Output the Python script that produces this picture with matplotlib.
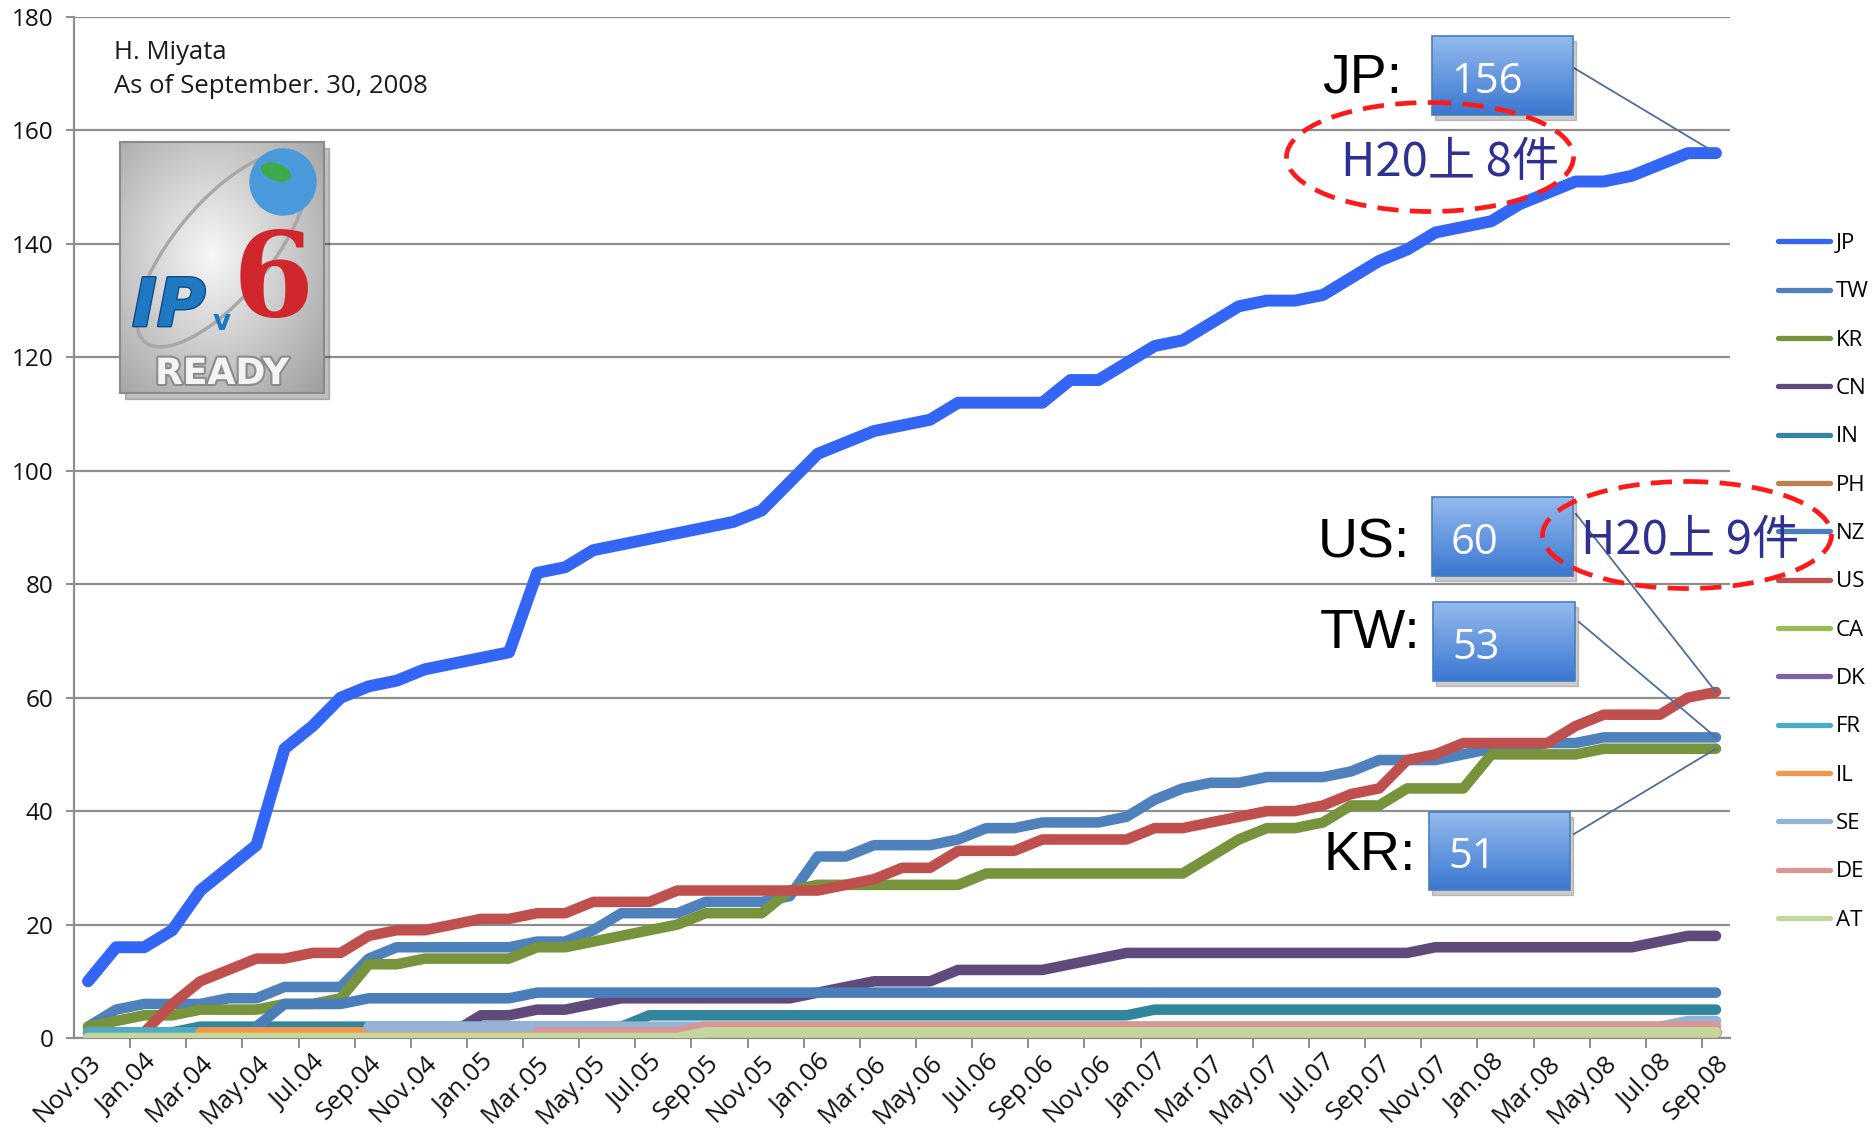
import numpy as np
import matplotlib
matplotlib.use("Agg")
import matplotlib.pyplot as plt
from matplotlib.patches import Ellipse, Rectangle, Circle
from matplotlib.lines import Line2D
import matplotlib.patheffects as pe

nan = np.nan

# ---------------- data ----------------
tick_labels = ["Nov.03", "Jan.04", "Mar.04", "May.04", "Jul.04", "Sep.04", "Nov.04", "Jan.05",
               "Mar.05", "May.05", "Jul.05", "Sep.05", "Nov.05", "Jan.06", "Mar.06", "May.06",
               "Jul.06", "Sep.06", "Nov.06", "Jan.07", "Mar.07", "May.07", "Jul.07", "Sep.07",
               "Nov.07", "Jan.08", "Mar.08", "May.08", "Jul.08", "Sep.08"]
n_months = 59

JP = [10, 16, 16, 19, 26, 30, 34, 51, 55, 60, 62, 63, 65, 66, 67, 68, 82, 83, 86, 87,
      88, 89, 90, 91, 93, 98, 103, 105, 107, 108, 109, 112, 112, 112, 112, 116, 116, 119, 122, 123,
      126, 129, 130, 130, 131, 134, 137, 139, 142, 143, 144, 147, 149, 151, 151, 152, 154, 156, 156]
TW = [2, 5, 6, 6, 6, 7, 7, 9, 9, 9, 14, 16, 16, 16, 16, 16, 17, 17, 19, 22,
      22, 22, 24, 24, 24, 25, 32, 32, 34, 34, 34, 35, 37, 37, 38, 38, 38, 39, 42, 44,
      45, 45, 46, 46, 46, 47, 49, 49, 49, 50, 51, 51, 52, 52, 53, 53, 53, 53, 53]
KR = [2, 3, 4, 4, 5, 5, 5, 6, 6, 7, 13, 13, 14, 14, 14, 14, 16, 16, 17, 18,
      19, 20, 22, 22, 22, 26, 27, 27, 27, 27, 27, 27, 29, 29, 29, 29, 29, 29, 29, 29,
      32, 35, 37, 37, 38, 41, 41, 44, 44, 44, 50, 50, 50, 50, 51, 51, 51, 51, 51]
CN = [nan] * 13 + [1, 4, 4, 5, 5, 6, 7, 7, 7, 7, 7, 7, 7, 8, 9, 10, 10, 10, 12, 12,
                   12, 12, 13, 14, 15, 15, 15, 15, 15, 15, 15, 15, 15, 15, 15, 16, 16, 16, 16, 16,
                   16, 16, 16, 17, 18, 18]
IN = [1, 1, 1, 1] + [2] * 16 + [4] * 18 + [5] * 21
PH = [1] * 59
NZ = [nan] * 6 + [2, 6, 6, 6] + [7] * 6 + [8] * 43
US = [nan, nan, 1, 6, 10, 12, 14, 14, 15, 15, 18, 19, 19, 20, 21, 21, 22, 22, 24, 24,
      24, 26, 26, 26, 26, 26, 26, 27, 28, 30, 30, 33, 33, 33, 35, 35, 35, 35, 37, 37,
      38, 39, 40, 40, 41, 43, 44, 49, 50, 52, 52, 52, 52, 55, 57, 57, 57, 60, 61]
CA = [nan] * 22 + [1] * 37
DK = [nan] * 30 + [1] * 29
FR = [1] * 59
IL = [nan] * 4 + [1] * 55
SE = [nan] * 10 + [2] * 47 + [3, 3]
DE = [nan] * 16 + [1] * 6 + [2] * 37
AT = [0] * 22 + [1] * 37

series_names = ["JP", "TW", "KR", "CN", "IN", "PH", "NZ", "US", "CA", "DK", "FR", "IL", "SE", "DE", "AT"]
series_values = [JP, TW, KR, CN, IN, PH, NZ, US, CA, DK, FR, IL, SE, DE, AT]
series_colors = ["#3366F5", "#4F81BD", "#77933C", "#604A7B", "#31859C", "#C0804D", "#4A7EBB",
                 "#C0504D", "#9BBB59", "#8064A2", "#4BACC6", "#F79646", "#95B3D7", "#D99694", "#C3D69B"]

callouts = [("JP", "156"), ("US", "60"), ("TW", "53"), ("KR", "51")]
notes = ["H20上 8件", "H20上 9件"]

# ---------------- figure ----------------
W, H = 1875, 1138
plt.rcParams["font.family"] = ["Open Sans", "Noto Sans CJK JP", "DejaVu Sans"]
fig = plt.figure(figsize=(W / 100, H / 100), dpi=100)
fig.patch.set_facecolor("white")

ax = fig.add_axes([74 / W, 1 - 1038 / H, (1730 - 74) / W, (1038 - 17) / H])
x = np.arange(n_months)
for i, (name, vals, col) in enumerate(zip(series_names, series_values, series_colors)):
    lw = 8.6 if name == "JP" else 7.6
    ax.plot(x, np.array(vals, dtype=float), color=col, lw=lw, solid_capstyle="round",
            solid_joinstyle="round", zorder=3 + i, label=name)

grid_c = "#8E8E8E"
ax.set_xlim(-0.5, n_months - 0.5)
ax.set_ylim(0, 180)
ax.set_yticks(np.arange(0, 181, 20))
ax.yaxis.grid(True, color=grid_c, lw=1.6, zorder=1)
ax.set_axisbelow(True)
for s in ["top", "right"]:
    ax.spines[s].set_visible(False)
for s in ["left", "bottom"]:
    ax.spines[s].set_color(grid_c)
    ax.spines[s].set_linewidth(1.6)
ax.tick_params(axis="y", length=6, width=1.4, color=grid_c, labelsize=17.5, pad=9, labelcolor="#111111")
ax.set_xticks(np.arange(0, n_months, 2))
ax.set_xticklabels(tick_labels, rotation=45, ha="right", va="top", rotation_mode="anchor")
ax.tick_params(axis="x", which="major", length=0, labelsize=18.5, pad=9, labelcolor="#111111")
ax.set_xticks(np.arange(1.5, n_months - 1, 2), minor=True)
ax.tick_params(axis="x", which="minor", length=7, width=1.4, color=grid_c)

leg = ax.legend(loc="upper left", bbox_to_anchor=(1778 / W, 1 - 233 / H), bbox_transform=fig.transFigure,
                frameon=False, fontsize=16, handlelength=2.35, handletextpad=0.25,
                labelspacing=1.23, borderpad=0, borderaxespad=0)
for h in leg.get_lines():
    h.set_linewidth(3.8)

# ---------------- overlay (pixel coordinates) ----------------
ov = fig.add_axes([0, 0, 1, 1], zorder=10)
ov.patch.set_alpha(0)
ov.axis("off")


def d2p(xv, yv):
    px, py = ax.transData.transform((xv, yv))
    return px, H - py


# header text
ov.text(114, 52, "H. Miyata", fontsize=18.5, va="center", ha="left", color="#1A1A1A")
ov.text(114, 86, "As of September. 30, 2008", fontsize=18.5, va="center", ha="left", color="#1A1A1A")

# logo (IPv6 Ready)
lx0, ly0, lx1, ly1 = 120, 142, 324, 393
ov.add_patch(Rectangle((lx0 + 5, ly0 + 6), lx1 - lx0, ly1 - ly0, color="black", alpha=0.25, zorder=1))
gy, gx = np.mgrid[0:1:120j, 0:1:100j]
r = np.sqrt((gx - 0.45) ** 2 + (gy - 0.45) ** 2)
val = np.clip(0.97 - 0.45 * r, 0.6, 1.0)
logo_img = np.dstack([val, val, val])
ov.imshow(logo_img, extent=(lx0, lx1, ly1, ly0), aspect="auto", zorder=2, interpolation="bilinear")
ov.add_patch(Rectangle((lx0, ly0), lx1 - lx0, ly1 - ly0, fill=False, ec="#8A8A8A", lw=1.5, zorder=3))
ov.add_patch(Ellipse((222, 250), 240, 95, angle=-50, fill=False, ec="#A8A8A8", lw=2.5, zorder=3))
ov.add_patch(Circle((283, 182), 33, color="#4A9ADB", zorder=4))
ov.add_patch(Ellipse((276, 172), 30, 16, angle=20, color="#3DAA4A", zorder=5))
ov.text(132, 326, "IP", fontsize=48, fontweight="bold", style="italic", color="#1E78C2",
        family=["DejaVu Sans"], ha="left", va="baseline", zorder=6,
        path_effects=[pe.withStroke(linewidth=2, foreground="#0E4C86")])
ov.text(213, 330, "v", fontsize=20, fontweight="bold", color="#1E78C2", family=["DejaVu Sans"],
        ha="left", va="baseline", zorder=7)
ov.text(233, 316, "6", fontsize=84, fontweight="bold", color="#D1262B", family=["DejaVu Serif"],
        ha="left", va="baseline", zorder=6)
ov.text(222, 384, "READY", fontsize=26, fontweight="bold", color="#F4F4F4", family=["DejaVu Sans"],
        ha="center", va="baseline", zorder=7,
        path_effects=[pe.withStroke(linewidth=3, foreground="#8C8C8C")])

# callout boxes
box_geom = {"JP": (1432, 36, 1573, 115), "US": (1432, 497, 1573, 576),
            "TW": (1433, 602, 1575, 681), "KR": (1429, 812, 1570, 890)}
label_pos = {"JP": (1322, 92), "US": (1318, 557), "TW": (1320, 648), "KR": (1324, 870)}
conn_start = {"JP": (1574, 68), "US": (1576, 514), "TW": (1579, 622), "KR": (1574, 834)}
top_c = np.array([0.58, 0.73, 0.93])
bot_c = np.array([0.23, 0.47, 0.82])
grad = np.linspace(0, 1, 80)[:, None, None]
box_img = top_c[None, None, :] + (bot_c - top_c)[None, None, :] * grad
for name, num in callouts:
    vals = series_values[series_names.index(name)]
    ex, ey = d2p(n_months - 1, vals[-1])
    sx, sy = conn_start[name]
    ov.add_line(Line2D([sx, ex], [sy, ey], color="#4F6E9A", lw=1.3, zorder=20))
    x0, y0, x1, y1 = box_geom[name]
    ov.add_patch(Rectangle((x0 + 3, y0 + 5), x1 - x0, y1 - y0, color="black", alpha=0.2, zorder=21))
    ov.imshow(box_img, extent=(x0, x1, y1, y0), aspect="auto", zorder=22, interpolation="bilinear")
    ov.add_patch(Rectangle((x0, y0), x1 - x0, y1 - y0, fill=False, ec="#4A7EBB", lw=1.2, zorder=23))
    ov.text(x0 + 19, (y0 + y1) / 2 + 17, num, fontsize=30, color="white", ha="left",
            va="baseline", zorder=24)
    lx, ly = label_pos[name]
    ov.text(lx, ly, name + ":", fontsize=40, color="black", family=["Liberation Sans"],
            ha="left", va="baseline", zorder=24)

# dashed ellipses with notes
ell = [((1430, 157), 287, 109), ((1687, 535), 289, 107)]
note_pos = [(1450, 163), (1690, 541)]
for (c, w, h), txt, (tx, ty) in zip(ell, notes, note_pos):
    ov.add_patch(Ellipse(c, w, h, fill=False, ec="#FF1A1A", lw=3.4, ls=(0, (4.5, 2.4)), zorder=30))
    ov.text(tx, ty, txt, fontsize=34, color="#2E3192", family=["Noto Sans CJK JP", "DejaVu Sans"],
            ha="center", va="center", zorder=31)

ov.set_xlim(0, W)
ov.set_ylim(H, 0)

fig.savefig("out.png", dpi=100, facecolor="white")
